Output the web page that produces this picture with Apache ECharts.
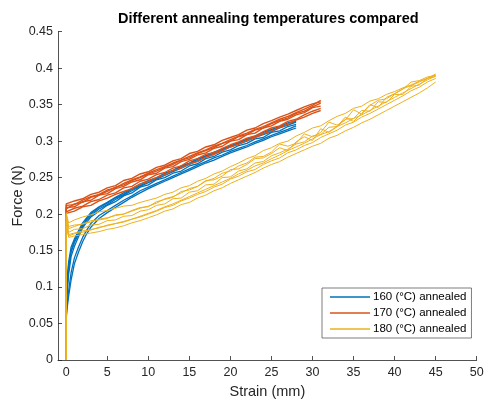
<!DOCTYPE html>
<html>
<head>
<meta charset="utf-8">
<script src="https://cdn.jsdelivr.net/npm/echarts@6/dist/echarts.min.js"></script>
<style>html,body{margin:0;padding:0;background:#fff;}#chart{width:484px;height:401px;}</style>
</head>
<body>
<div id="chart"></div>
<script>
const TITLE = 'Different annealing temperatures compared';
const X_NAME = 'Strain (mm)';
const Y_NAME = 'Force (N)';
const SERIES_NAMES = ['160 (°C) annealed', '170 (°C) annealed', '180 (°C) annealed'];
const X_TICKS = [0, 5, 10, 15, 20, 25, 30, 35, 40, 45, 50];

// 160 °C
const STRAIN_160 = [0, 0.1, 0.3, 0.6, 1, 1.5, 2, 2.5, 3, 4, 5, 6, 7, 8, 9, 10, 11, 12, 13, 14, 15, 16, 17, 18, 19, 20, 21, 22, 23, 24, 25, 26, 27, 28];
const FORCE_160 = [
  [0.075,0.11,0.135,0.155,0.166,0.177,0.188,0.195,0.202,0.210,0.216,0.223,0.229,0.235,0.241,0.246,0.250,0.256,0.260,0.266,0.270,0.276,0.280,0.285,0.289,0.294,0.298,0.303,0.307,0.312,0.316,0.320,0.325,0.328],
  [0.055,0.075,0.095,0.12,0.14,0.155,0.168,0.178,0.187,0.198,0.205,0.212,0.219,0.225,0.232,0.237,0.242,0.247,0.252,0.257,0.262,0.267,0.272,0.277,0.281,0.286,0.290,0.294,0.299,0.303,0.308,0.312,0.316,0.321],
  [0.065,0.09,0.118,0.142,0.156,0.169,0.181,0.189,0.196,0.204,0.212,0.217,0.225,0.229,0.237,0.240,0.247,0.250,0.256,0.259,0.266,0.269,0.276,0.279,0.285,0.288,0.294,0.297,0.303,0.305,0.312,0.314,0.320,0.323],
  [0.08,0.1,0.125,0.148,0.161,0.172,0.183,0.192,0.198,0.207,0.213,0.220,0.226,0.232,0.238,0.243,0.248,0.253,0.258,0.263,0.268,0.273,0.278,0.282,0.287,0.292,0.296,0.300,0.305,0.309,0.313,0.318,0.322,0.326],
  [0.06,0.07,0.088,0.11,0.132,0.148,0.162,0.173,0.182,0.194,0.202,0.209,0.216,0.223,0.229,0.235,0.240,0.245,0.250,0.255,0.260,0.265,0.270,0.274,0.279,0.284,0.288,0.292,0.297,0.301,0.306,0.310,0.314,0.318],
  [0.07,0.095,0.13,0.15,0.163,0.174,0.185,0.193,0.2,0.209,0.215,0.222,0.227,0.234,0.239,0.245,0.249,0.255,0.259,0.265,0.269,0.275,0.279,0.284,0.288,0.293,0.297,0.302,0.306,0.310,0.315,0.319,0.323,0.327]
];

// 170 °C
const STRAIN_170 = [0, 0, 1, 2, 3, 4, 5, 6, 7, 8, 9, 10, 11, 12, 13, 14, 15, 16, 17, 18, 19, 20, 21, 22, 23, 24, 25, 26, 27, 28, 29, 30, 31];
const FORCE_170 = [
  [0,0.214,0.218,0.221,0.227,0.230,0.236,0.239,0.246,0.249,0.255,0.258,0.264,0.267,0.273,0.276,0.283,0.286,0.292,0.295,0.301,0.305,0.309,0.315,0.318,0.324,0.328,0.333,0.337,0.342,0.347,0.351,0.354],
  [0,0.203,0.208,0.211,0.217,0.220,0.226,0.229,0.236,0.238,0.245,0.248,0.254,0.257,0.263,0.266,0.273,0.276,0.282,0.284,0.290,0.295,0.299,0.304,0.307,0.313,0.318,0.321,0.327,0.330,0.336,0.341,0.345],
  [0,0.209,0.210,0.217,0.219,0.226,0.228,0.235,0.238,0.244,0.247,0.254,0.256,0.263,0.265,0.272,0.275,0.281,0.284,0.290,0.293,0.300,0.302,0.309,0.311,0.318,0.321,0.327,0.330,0.336,0.339,0.346,0.348],
  [0,0.207,0.214,0.216,0.223,0.226,0.231,0.237,0.240,0.246,0.250,0.255,0.259,0.264,0.268,0.274,0.277,0.283,0.287,0.291,0.297,0.300,0.306,0.309,0.315,0.318,0.324,0.328,0.332,0.338,0.341,0.347,0.352],
  [0,0.201,0.204,0.210,0.212,0.218,0.222,0.227,0.231,0.235,0.241,0.245,0.250,0.254,0.260,0.263,0.269,0.272,0.278,0.282,0.287,0.292,0.296,0.301,0.305,0.310,0.314,0.319,0.323,0.329,0.333,0.338,0.342],
  [0,0.212,0.213,0.219,0.224,0.227,0.233,0.236,0.242,0.247,0.251,0.256,0.261,0.265,0.270,0.274,0.279,0.284,0.288,0.293,0.297,0.302,0.307,0.311,0.316,0.320,0.325,0.330,0.334,0.339,0.344,0.349,0.356]
];

// 180 °C
const STRAIN_180 = [0, 0, 0.3, 1, 2, 3, 4, 5, 6, 7, 8, 9, 10, 11, 12, 13, 14, 15, 16, 17, 18, 19, 20, 21, 22, 23, 24, 25, 26, 27, 28, 29, 30, 31, 32, 33, 34, 35, 36, 37, 38, 39, 40, 41, 42, 43, 44, 45];
const FORCE_180 = [
  [0,0.200,0.188,0.192,0.196,0.199,0.203,0.205,0.208,0.211,0.212,0.216,0.219,0.222,0.227,0.230,0.236,0.239,0.245,0.249,0.255,0.259,0.265,0.270,0.276,0.280,0.287,0.291,0.297,0.300,0.307,0.312,0.318,0.321,0.328,0.334,0.338,0.345,0.348,0.355,0.358,0.364,0.368,0.373,0.377,0.382,0.386,0.391],
  [0,0.190,0.168,0.170,0.172,0.174,0.176,0.179,0.181,0.184,0.188,0.191,0.195,0.199,0.204,0.207,0.213,0.216,0.222,0.226,0.232,0.236,0.242,0.247,0.252,0.257,0.263,0.268,0.272,0.278,0.283,0.288,0.293,0.297,0.304,0.308,0.314,0.319,0.325,0.330,0.336,0.342,0.348,0.354,0.360,0.366,0.373,0.381],
  [0,0.195,0.175,0.179,0.180,0.185,0.186,0.191,0.192,0.197,0.198,0.204,0.206,0.212,0.214,0.221,0.222,0.230,0.232,0.240,0.241,0.250,0.251,0.259,0.262,0.270,0.272,0.280,0.284,0.289,0.296,0.299,0.307,0.309,0.319,0.320,0.330,0.331,0.342,0.341,0.354,0.353,0.364,0.364,0.375,0.377,0.386,0.389],
  [0,0.198,0.180,0.183,0.187,0.189,0.193,0.195,0.198,0.200,0.204,0.208,0.211,0.215,0.221,0.224,0.229,0.235,0.238,0.245,0.249,0.256,0.259,0.266,0.270,0.278,0.279,0.285,0.296,0.293,0.297,0.310,0.306,0.312,0.326,0.322,0.329,0.343,0.337,0.349,0.356,0.358,0.365,0.372,0.376,0.381,0.386,0.392],
  [0,0.185,0.172,0.174,0.177,0.178,0.182,0.184,0.187,0.189,0.193,0.196,0.200,0.204,0.209,0.212,0.218,0.222,0.227,0.231,0.237,0.241,0.248,0.252,0.258,0.261,0.268,0.273,0.277,0.284,0.288,0.294,0.298,0.305,0.310,0.315,0.322,0.326,0.333,0.338,0.344,0.350,0.356,0.362,0.369,0.374,0.381,0.386],
  [0,0.202,0.183,0.185,0.186,0.191,0.192,0.194,0.199,0.200,0.205,0.209,0.210,0.217,0.220,0.223,0.231,0.233,0.238,0.246,0.247,0.252,0.261,0.262,0.268,0.276,0.277,0.283,0.291,0.287,0.299,0.306,0.301,0.317,0.312,0.320,0.333,0.327,0.338,0.350,0.346,0.360,0.365,0.371,0.381,0.383,0.388,0.390],
  [0,0.180,0.170,0.173,0.175,0.179,0.181,0.185,0.187,0.190,0.193,0.197,0.201,0.205,0.210,0.214,0.219,0.224,0.229,0.234,0.239,0.244,0.249,0.255,0.260,0.266,0.270,0.276,0.281,0.287,0.292,0.297,0.303,0.309,0.313,0.320,0.325,0.331,0.336,0.342,0.348,0.354,0.360,0.366,0.372,0.378,0.384,0.389]
];

const COLORS = ['#0072BD', '#D95319', '#EDB120'];
const WIDTHS = [1.3, 1.4, 1.0];
const FONT = '"Liberation Sans", Arial, Helvetica, sans-serif';
const INK = '#262626';

const groups = [
  { strain: STRAIN_160, forces: FORCE_160 },
  { strain: STRAIN_170, forces: FORCE_170 },
  { strain: STRAIN_180, forces: FORCE_180 }
];

const series = [];
groups.forEach((g, gi) => {
  g.forces.forEach(f => {
    series.push({
      type: 'line',
      name: SERIES_NAMES[gi],
      data: f.map((v, i) => [g.strain[i], v]),
      showSymbol: false,
      symbol: 'none',
      lineStyle: { width: WIDTHS[gi], color: COLORS[gi] },
      itemStyle: { color: COLORS[gi] },
      emphasis: { disabled: true },
      animation: false
    });
  });
});

const chart = echarts.init(document.getElementById('chart'), null, { renderer: 'canvas' });
chart.setOption({
  animation: false,
  backgroundColor: '#fff',
  title: {
    text: TITLE,
    left: 118, top: 11, padding: 0,
    textStyle: { fontFamily: FONT, fontSize: 14.5, fontWeight: 'bold', color: '#000' }
  },
  graphic: [{
    type: 'text',
    x: 18, y: 196,
    rotation: Math.PI / 2,
    style: {
      text: Y_NAME,
      fill: INK,
      font: '14.5px "Liberation Sans", Arial, Helvetica, sans-serif',
      align: 'center',
      verticalAlign: 'middle'
    }
  }],
  grid: { left: 58, top: 31.7, width: 418.7, height: 328.3, containLabel: false, outerBoundsMode: 'none' },
  legend: {
    data: SERIES_NAMES,
    orient: 'vertical',
    left: 322, top: 288,
    padding: [3, 5, 3, 8],
    itemGap: 4,
    itemWidth: 40, itemHeight: 1.5,
    icon: 'rect',
    backgroundColor: '#fff',
    borderColor: INK, borderWidth: 0.6,
    textStyle: { fontFamily: FONT, fontSize: 11.5, color: '#000', padding: [0, 0, 0, -2] },
    selectedMode: false
  },
  xAxis: {
    type: 'value', min: -1, max: 50,
    name: X_NAME, nameLocation: 'middle', nameGap: 24,
    nameTextStyle: { fontFamily: FONT, fontSize: 14.5, color: INK },
    axisLine: { show: true, onZero: false, lineStyle: { color: INK, width: 0.8 } },
    axisTick: { show: true, inside: true, length: 4, customValues: X_TICKS, lineStyle: { color: INK, width: 0.8 } },
    axisLabel: { customValues: X_TICKS, fontFamily: FONT, fontSize: 12.5, color: INK, margin: 6 },
    splitLine: { show: false }
  },
  yAxis: {
    type: 'value', min: 0, max: 0.45, interval: 0.05,
    axisLine: { show: true, onZero: false, lineStyle: { color: INK, width: 0.8 } },
    axisTick: { show: true, inside: true, length: 4, lineStyle: { color: INK, width: 0.8 } },
    axisLabel: { fontFamily: FONT, fontSize: 12.5, color: INK, margin: 5 },
    splitLine: { show: false }
  },
  series: series
});
</script>
</body>
</html>
